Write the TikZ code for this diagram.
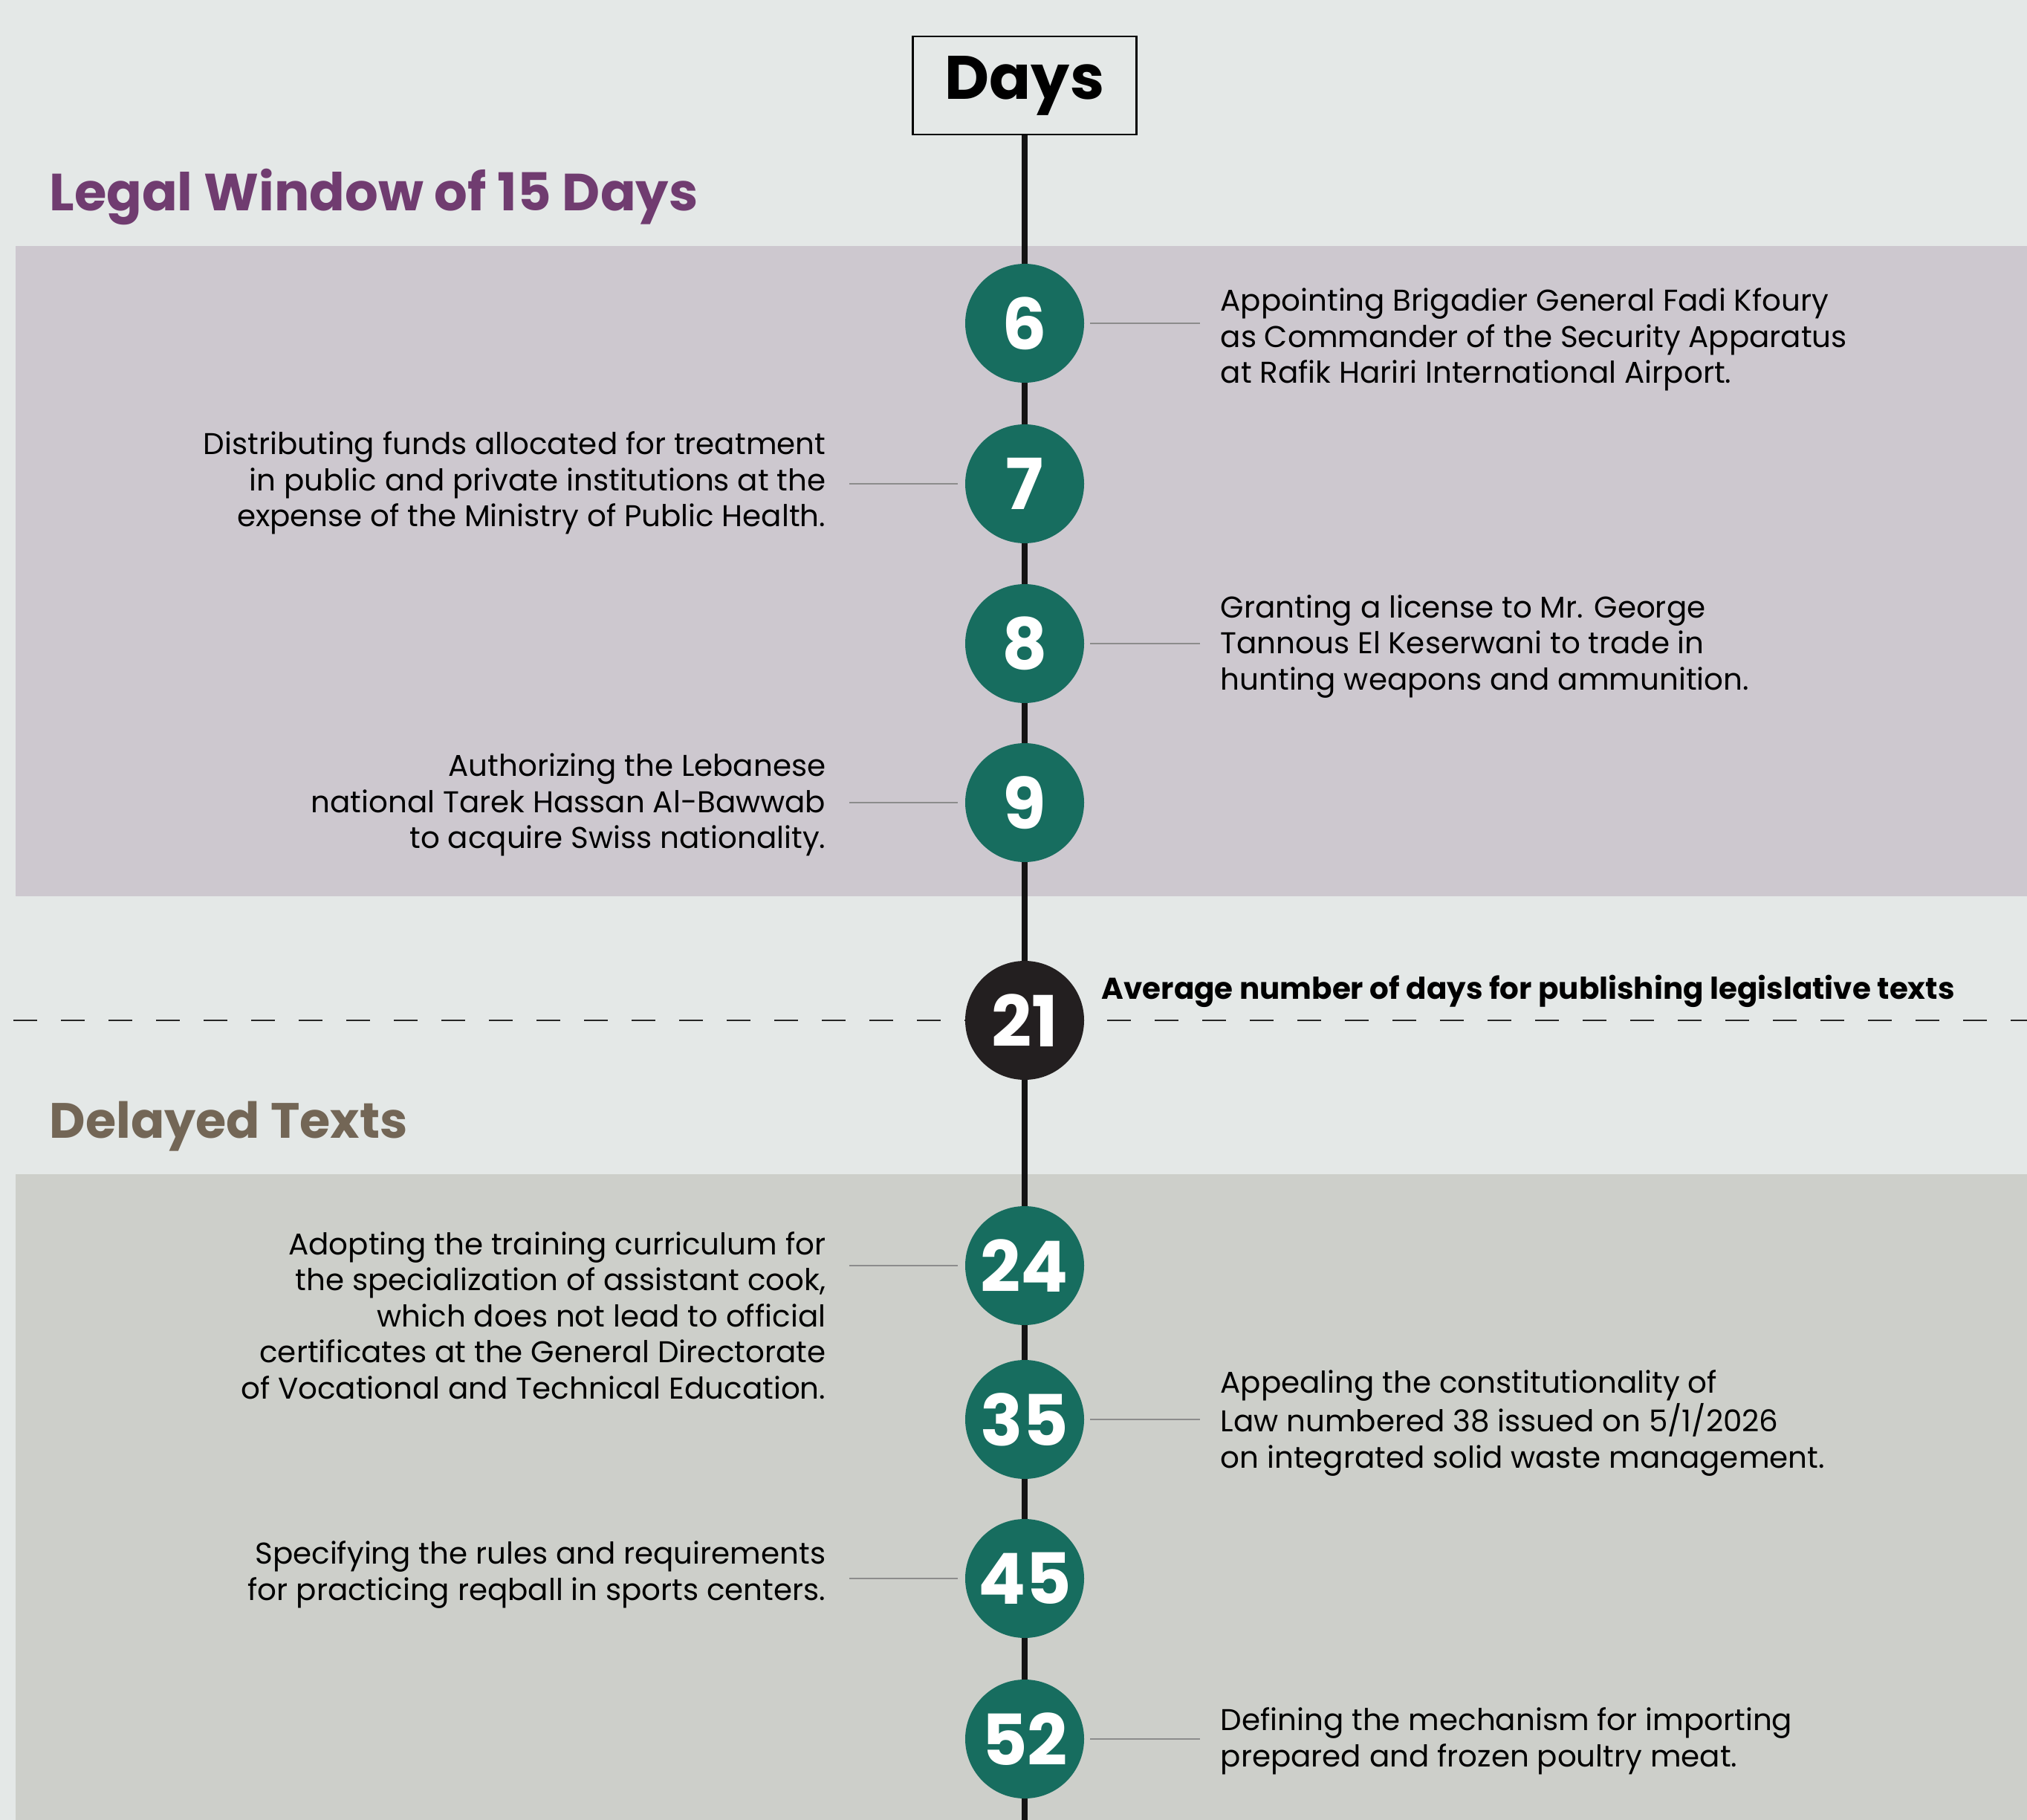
\documentclass[tikz,border=0pt]{standalone}
\usepackage{fontspec}
\setmainfont{Poppins}
\usepackage{tikz}
\usetikzlibrary{positioning,calc}
\definecolor{paper}{RGB}{228,232,231}
\definecolor{legalbg}{RGB}{205,200,207}
\definecolor{delaybg}{RGB}{205,207,202}
\definecolor{legal}{RGB}{112,60,112}
\definecolor{delay}{RGB}{115,102,86}
\definecolor{dayc}{RGB}{23,109,95}
\definecolor{avgc}{RGB}{35,31,32}
\definecolor{linkc}{RGB}{140,140,140}

\begin{document}
\begin{tikzpicture}[
  day/.style={circle,fill=dayc,text=white,minimum size=1.6cm,inner sep=0pt,outer sep=0pt,
    font=\fontsize{27}{27}\selectfont\bfseries},
  avg/.style={day,fill=avgc},
  note/.style={inner sep=0pt,font=\fontsize{11.5}{13.8}\selectfont},
  rnote/.style={note,align=left},
  lnote/.style={note,align=right},
  title/.style={inner sep=0pt,anchor=base west,font=\fontsize{20}{20}\selectfont\bfseries},
  link/.style={draw=linkc,line width=0.6pt},
  spine/.style={draw=black!92,line width=2.4pt},
  dashline/.style={draw=black!85,line width=0.8pt,dash pattern=on 0.32cm off 0.32cm}
]
% background and bands
\fill[paper] (0,0) rectangle (27.28,-24.49);
\fill[legalbg] (0.21,-3.31) rectangle (27.28,-12.06);
\fill[delaybg] (0.21,-15.80) rectangle (27.28,-24.49);
\useasboundingbox (0,0) rectangle (27.28,-24.49);
% header
\node[draw,line width=0.8pt,fill=paper,minimum width=3.01cm,minimum height=1.32cm,
  font=\fontsize{23.5}{23.5}\selectfont\bfseries] (days) at (13.79,-1.15) {Days};
\node[title,text=legal] (tlegal) at (0.66,-2.84) {Legal Window of 15 Days};
\node[title,text=delay,font=\fontsize{19}{19}\selectfont\bfseries] (tdelay) at (0.66,-15.31) {Delayed Texts};
% average line
\coordinate (dl) at (0.18,-13.73);
\coordinate (dr) at (27.28,-13.73);
\draw[dashline] (dl) -- (dr);
% spine
\coordinate (bottom) at (13.79,-24.49);
\draw[spine] (days.south) -- (bottom);
% days
\node[day] (c6) at (13.79,-4.35) {6};
\node[day] (c7) [below=0.56cm of c6] {7};
\node[day] (c8) [below=0.55cm of c7] {8};
\node[day] (c9) [below=0.54cm of c8] {9};
\node[avg] (c21) [below=1.33cm of c9] {21};
\node[day] (c24) [below=1.70cm of c21] {24};
\node[day] (c35) [below=0.47cm of c24] {35};
\node[day] (c45) [below=0.54cm of c35] {45};
\node[day] (c52) [below=0.56cm of c45] {52};
% notes
\node[rnote] (t6) [right=1.83cm of c6,yshift=-0.22cm]
  {Appointing Brigadier General Fadi Kfoury\\as Commander of the Security Apparatus\\at Rafik Hariri International Airport.};
\node[lnote] (t7) [left=1.87cm of c7,yshift=0.01cm]
  {Distributing funds allocated for treatment\\in public and private institutions at the\\expense of the Ministry of Public Health.};
\node[rnote] (t8) [right=1.83cm of c8,yshift=-0.04cm]
  {Granting a license to Mr. George\\Tannous El Keserwani to trade in\\hunting weapons and ammunition.};
\node[lnote] (t9) [left=1.87cm of c9,yshift=-0.03cm]
  {Authorizing the Lebanese\\national Tarek Hassan Al-Bawwab\\to acquire Swiss nationality.};
\node[note,font=\fontsize{11.5}{13.8}\selectfont\bfseries] (t21) [right=0.23cm of c21,yshift=0.39cm]
  {Average number of days for publishing legislative texts};
\node[lnote] (t24) [left=1.87cm of c24,yshift=-0.67cm]
  {Adopting the training curriculum for\\the specialization of assistant cook,\\which does not lead to official\\certificates at the General Directorate\\of Vocational and Technical Education.};
\node[rnote] (t35) [right=1.83cm of c35,yshift=-0.05cm]
  {Appealing the constitutionality of\\Law numbered 38 issued on 5/1/2026\\on integrated solid waste management.};
\node[lnote] (t45) [left=1.87cm of c45,yshift=0.05cm]
  {Specifying the rules and requirements\\for practicing reqball in sports centers.};
\node[rnote] (t52) [right=1.83cm of c52,yshift=-0.03cm]
  {Defining the mechanism for importing\\prepared and frozen poultry meat.};
% links
\draw[link] ($(c6.east)+(0.08,0)$) -- ($(c6.east -| t6.west)+(-0.27,0)$);
\draw[link] ($(c7.west)+(-0.1,0)$) -- ($(c7.west -| t7.east)+(0.31,0)$);
\draw[link] ($(c8.east)+(0.08,0)$) -- ($(c8.east -| t8.west)+(-0.27,0)$);
\draw[link] ($(c9.west)+(-0.1,0)$) -- ($(c9.west -| t9.east)+(0.31,0)$);
\draw[link] ($(c24.west)+(-0.1,0)$) -- ($(c24.west -| t24.east)+(0.31,0)$);
\draw[link] ($(c35.east)+(0.08,0)$) -- ($(c35.east -| t35.west)+(-0.27,0)$);
\draw[link] ($(c45.west)+(-0.1,0)$) -- ($(c45.west -| t45.east)+(0.31,0)$);
\draw[link] ($(c52.east)+(0.08,0)$) -- ($(c52.east -| t52.west)+(-0.27,0)$);
\end{tikzpicture}
\end{document}
